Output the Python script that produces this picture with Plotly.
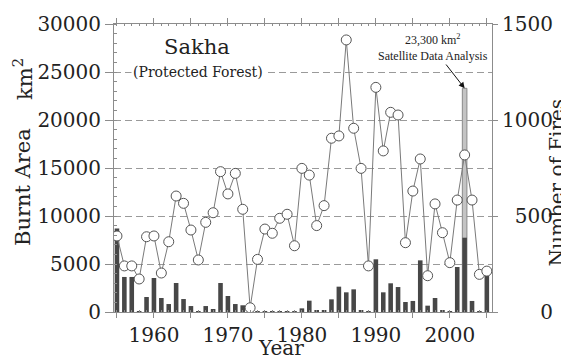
import plotly.graph_objects as go
from plotly.subplots import make_subplots

years = list(range(1955, 2006))

burnt_area_km2 = [
    8700, 3650, 3650, 100, 1560, 3540, 1460, 830, 3020, 1350,
    620, 100, 620, 310, 3020, 1670, 830, 700, 50, 30,
    30, 100, 100, 100, 50, 380, 1180, 150, 150, 1320,
    2640, 2050, 2360, 150, 50, 5490, 2050, 2990, 2600, 1040,
    1150, 5380, 660, 1460, 150, 100, 4690, 7740, 1150, 50,
    3780,
]

number_of_fires = [
    396, 240, 240, 172, 392, 396, 203, 366, 604, 566,
    427, 271, 467, 517, 731, 615, 722, 535, 22, 274,
    432, 410, 488, 509, 345, 748, 713, 450, 554, 905,
    917, 1417, 957, 748, 240, 1170, 839, 1040, 1026, 361,
    630, 797, 189, 563, 413, 257, 583, 818, 583, 196,
    213,
]

satellite_year = [2002]
satellite_area = [23300]

left_ticks = [0, 5000, 10000, 15000, 20000, 25000, 30000]
right_ticks = [0, 500, 1000, 1500]
right_ticktext = ["\u2007\u2007\u20070", "\u2007500", "1000", "1500"]

SERIF = "DejaVu Serif"
AXC = "#8c8c8c"
TXT = "#222222"

fig = make_subplots(specs=[[{"secondary_y": True}]])

fig.add_trace(go.Bar(
    x=satellite_year, y=satellite_area, width=0.62,
    marker=dict(color="#c4c4c4", line=dict(color="#8a8a8a", width=1)),
    hoverinfo="skip"), secondary_y=False)

fig.add_trace(go.Bar(
    x=years, y=burnt_area_km2, width=0.62,
    marker=dict(color="#474747", line=dict(width=0)),
    name="Burnt Area"), secondary_y=False)

fig.add_trace(go.Scatter(
    x=years, y=number_of_fires, mode="lines+markers",
    line=dict(color="#7a7a7a", width=1),
    marker=dict(symbol="circle", size=10, color="white",
                line=dict(color="#555555", width=1)),
    name="Number of Fires"), secondary_y=True)

# page body has an 8px default margin: size the figure so the plot lands where the reference has it
fig.update_layout(
    width=561, height=352,
    margin=dict(l=106, r=77, t=16, b=48, autoexpand=False),
    plot_bgcolor="white", paper_bgcolor="white",
    barmode="overlay", showlegend=False,
    font=dict(family=SERIF, color=TXT, size=20),
)

fig.update_xaxes(
    domain=[0, 1],
    range=[1954.6, 2005.7], automargin=False,
    tickmode="linear", tick0=1950, dtick=5, ticklabelstep=2,
    ticks="outside", ticklen=5, tickcolor=AXC, tickwidth=1,
    showline=True, linecolor=AXC, linewidth=1, mirror="ticks",
    showgrid=False, zeroline=False,
    minor=dict(dtick=1, tick0=1955, ticks="inside", ticklen=2, tickcolor=AXC, showgrid=False),
    tickfont=dict(family=SERIF, size=20, color=TXT),
)

fig.update_yaxes(
    range=[0, 30000], tickmode="array", tickvals=left_ticks, automargin=False,
    ticktext=[str(v) for v in left_ticks],
    ticks="outside", ticklen=8, tickcolor=AXC,
    showline=True, linecolor=AXC, linewidth=1,
    showgrid=True, gridcolor="#9a9a9a", griddash="7px,4px", gridwidth=1.3,
    zeroline=False,
    minor=dict(dtick=1000, ticks="inside", ticklen=3, tickcolor=AXC, showgrid=False),
    tickfont=dict(family=SERIF, size=20, color=TXT),
    secondary_y=False,
)

fig.update_yaxes(
    range=[0, 1500], tickmode="array", tickvals=right_ticks, automargin=False,
    ticktext=right_ticktext,
    ticks="outside", ticklen=5, tickcolor=AXC,
    showline=True, linecolor=AXC, linewidth=1,
    showgrid=False, zeroline=False,
    tickfont=dict(family=SERIF, size=20, color=TXT),
    secondary_y=True,
)

annotations = [
    dict(text="Burnt Area", textangle=-90, xref="paper", yref="paper",
         x=(23 - 114) / 378, y=(312 - 187) / 288, showarrow=False,
         xanchor="center", yanchor="middle",
         font=dict(family=SERIF, size=21, color=TXT)),
    dict(text="km<sup>2</sup>", textangle=-90, xref="paper", yref="paper",
         x=(23 - 114) / 378, y=(312 - 79) / 288, showarrow=False,
         xanchor="center", yanchor="middle",
         font=dict(family=SERIF, size=21, color=TXT)),
    dict(text="Number of Fires", textangle=-90, xref="paper", yref="paper",
         x=(556.5 - 114) / 378, y=(312 - 183) / 288, showarrow=False,
         xanchor="center", yanchor="middle",
         font=dict(family=SERIF, size=20, color=TXT)),
    dict(text="Year", xref="paper", yref="paper",
         x=(281 - 114) / 378, y=(312 - 348) / 288, showarrow=False,
         xanchor="center", yanchor="middle",
         font=dict(family=SERIF, size=20, color=TXT)),
    dict(text="Sakha", xref="paper", yref="paper",
         x=(197 - 114) / 378, y=(312 - 47) / 288, showarrow=False,
         xanchor="center", yanchor="middle",
         font=dict(family=SERIF, size=21, color=TXT)),
    dict(text="(Protected Forest)", xref="paper", yref="paper",
         x=(198 - 114) / 378, y=(312 - 72) / 288, showarrow=False,
         xanchor="center", yanchor="middle", bgcolor="white",
         font=dict(family=SERIF, size=14, color=TXT)),
    dict(text="23,300 km<sup>2</sup><br>Satellite Data Analysis",
         x=2002, y=23300, xref="x", yref="y",
         ax=1997.7, ay=27550, axref="x", ayref="y",
         showarrow=True, arrowhead=2, arrowsize=1.2, arrowwidth=1,
         arrowcolor="#111111", standoff=0,
         font=dict(family="Liberation Serif", size=12, color=TXT)),
]
fig.update_layout(annotations=annotations)

fig.write_html("out.html")
